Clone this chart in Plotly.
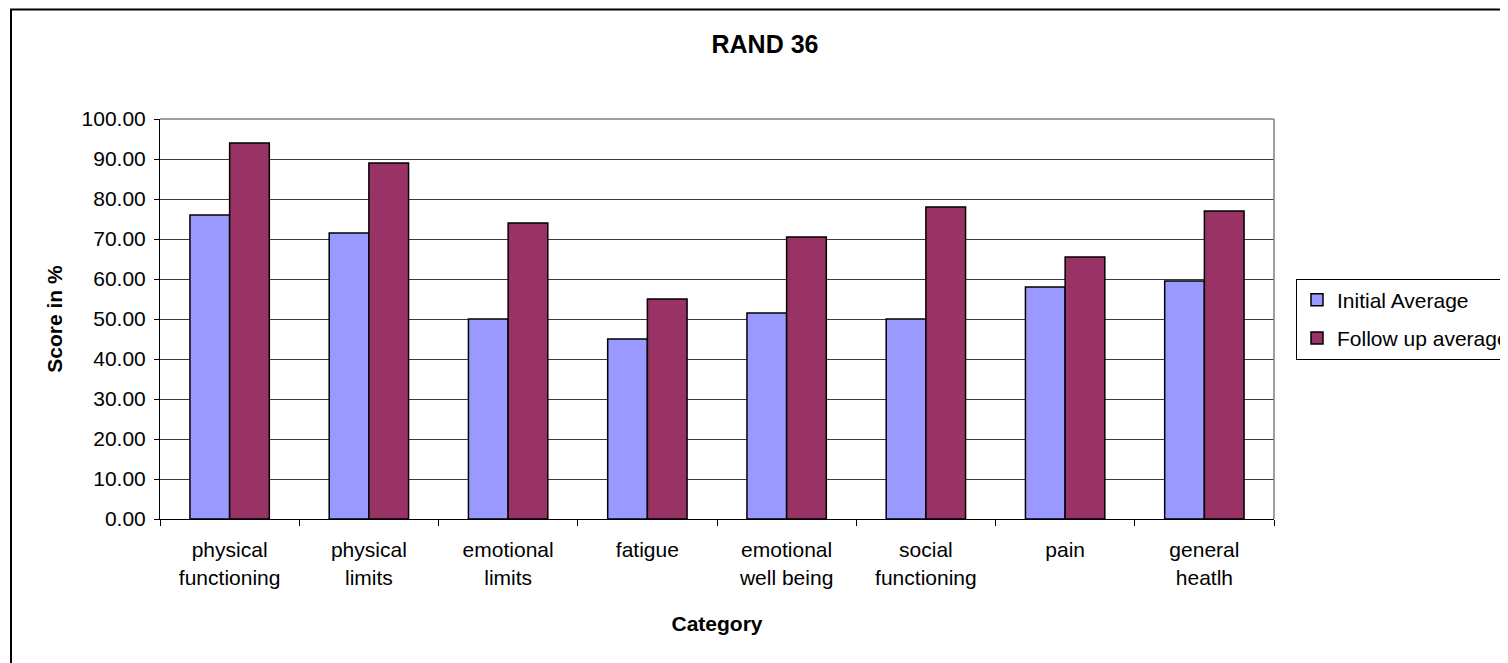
import plotly.graph_objects as go

categories = ["physical<br>functioning", "physical<br>limits", "emotional<br>limits", "fatigue",
              "emotional<br>well being", "social<br>functioning", "pain", "general<br>heatlh"]
initial_avg = [76.0, 71.5, 50.0, 45.0, 51.5, 50.0, 58.0, 59.5]
followup_avg = [94.0, 89.0, 74.0, 55.0, 70.5, 78.0, 65.5, 77.0]
series_names = ["Initial Average", "Follow up average"]
y_ticks = [0, 10, 20, 30, 40, 50, 60, 70, 80, 90, 100]

FONT = "Liberation Sans, Arial, sans-serif"
OFF = 8  # page body margin
W, H = 1508 - OFF, 663 - OFF
L, R, T, B = 160 - OFF, 1508 - 1274, 119 - OFF, 663 - 519
pw, ph = W - L - R, H - T - B

def px_x(p):
    return (p - OFF - L) / pw

def px_y(p):
    return (H - B - (p - OFF)) / ph

fig = go.Figure()
fig.add_trace(go.Bar(x=categories, y=initial_avg, name=series_names[0],
                     marker=dict(color="#9999FF", line=dict(color="black", width=1.5)),
                     legendgroup="a"))
fig.add_trace(go.Bar(x=categories, y=followup_avg, name=series_names[1],
                     marker=dict(color="#993366", line=dict(color="black", width=1.5)),
                     legendgroup="b"))

fig.update_layout(
    width=W, height=H,
    margin=dict(l=L, r=R, t=T, b=B, autoexpand=False),
    paper_bgcolor="white",
    plot_bgcolor="#C0C0C0",
    barmode="group", bargap=0.43, bargroupgap=0,
    font=dict(family=FONT, color="black", size=21),
    title=dict(text="<b>RAND 36</b>", x=(765 - OFF) / W, xanchor="center", xref="container",
               y=1 - (44 - OFF) / H, yanchor="middle", yref="container",
               font=dict(size=25, family=FONT, color="black")),
    legend=dict(x=px_x(1296), xanchor="left", y=0.5, yanchor="middle",
                bgcolor="white", bordercolor="black", borderwidth=1,
                font=dict(size=21, family=FONT), traceorder="grouped", tracegroupgap=8),
    showlegend=True,
    xaxis=dict(showline=True, linecolor="black", linewidth=1, ticks="outside",
               tickson="boundaries", ticklen=6, tickcolor="black", showgrid=False,
               tickfont=dict(size=21, family=FONT), ticklabelstandoff=12,
               title=dict(text="<b>Category</b>", font=dict(size=21, family=FONT), standoff=28)),
    yaxis=dict(range=[0, 100], tickvals=y_ticks, tickformat=".2f",
               showline=True, linecolor="black", linewidth=1, ticks="outside",
               ticklen=5, tickcolor="black", showgrid=True, gridcolor="#3c3c3c",
               gridwidth=1, zeroline=False, tickfont=dict(size=21, family=FONT),
               ticklabelstandoff=4,
               title=dict(text="<b>Score in %</b>", font=dict(size=21, family=FONT), standoff=13)),
    shapes=[
        dict(type="rect", xref="paper", yref="paper", x0=px_x(11), x1=px_x(1515),
             y0=px_y(670), y1=px_y(9.5), fillcolor="white",
             line=dict(color="black", width=2), layer="below"),
        dict(type="line", xref="paper", yref="paper", x0=0, x1=1, y0=1, y1=1,
             line=dict(color="#808080", width=1.5), layer="above"),
        dict(type="line", xref="paper", yref="paper", x0=1, x1=1, y0=0, y1=1,
             line=dict(color="#808080", width=1.5), layer="above"),
    ],
)

fig.write_html("out.html")
